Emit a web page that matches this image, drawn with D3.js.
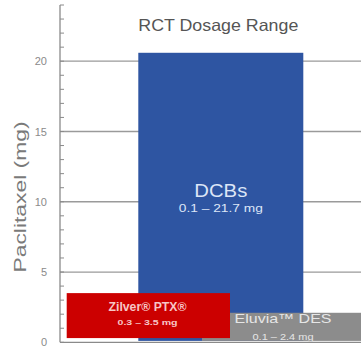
<!DOCTYPE html>
<html><head><meta charset="utf-8">
<script src="https://cdn.jsdelivr.net/npm/d3@7"></script>
<style>html,body{margin:0;padding:0;background:#fff;}svg{display:block;font-family:"Liberation Sans",Arial,sans-serif;}</style>
</head><body>
<svg id="c" width="361" height="349"></svg>
<script>
const categories = ["DCBs", "Zilver® PTX®", "Eluvia™ DES"];
const lowValues = [0.1, 0.3, 0.1];
const highValues = [20.6, 3.5, 2.1];
const rangeLabels = ["0.1 – 21.7 mg", "0.3 – 3.5 mg", "0.1 – 2.4 mg"];
const majorTicks = [0, 5, 10, 15, 20];
const minorTicks = d3.range(0, 25, 1);
const title = "RCT Dosage Range";
const yTitle = "Paclitaxel (mg)";

// layout (pixels)
const xSpans = [[138.3, 303.3], [66.7, 230], [202, 362]];
const fills = ["#2E55A2", "#CC0000", "#8C8C8C"];
const nameColors = ["#DCE6F7", "#F7C6C6", "#E6E6E6"];
const drawOrder = [0, 2, 1];
const nameStyle = [
  {size: 19, len: 53, dy: 0}, {size: 12.5, len: 78, dy: 0}, {size: 13, len: 97, dy: 0}
];
const subStyle = [
  {size: 10, len: 84}, {size: 8, len: 60}, {size: 8.5, len: 61}
];
const namePos = [[220.8, 196.5], [147.5, 311], [283, 323]];
const subPos = [[220.8, 211.7], [147.5, 325.3], [283, 339.5]];

const svg = d3.select("#c");
const y = d3.scaleLinear().domain([0, 24]).range([342.3, 5]);
const axisX = 60;

// gridlines
svg.append("g").selectAll("line").data(majorTicks.filter(d => d > 0)).join("line")
  .attr("x1", axisX).attr("x2", 361)
  .attr("y1", d => y(d)).attr("y2", d => y(d))
  .attr("stroke", "#9a9a9a").attr("stroke-width", 1.3);

// bars
const bars = svg.append("g");
drawOrder.forEach(i => {
  bars.append("rect")
    .attr("x", xSpans[i][0]).attr("width", xSpans[i][1] - xSpans[i][0])
    .attr("y", y(highValues[i])).attr("height", y(lowValues[i]) - y(highValues[i]))
    .attr("fill", fills[i]);
  bars.append("text")
    .attr("x", namePos[i][0]).attr("y", namePos[i][1])
    .attr("text-anchor", "middle")
    .attr("font-size", nameStyle[i].size)
    .attr("textLength", nameStyle[i].len).attr("lengthAdjust", "spacingAndGlyphs")
    .attr("fill", nameColors[i]).attr("font-weight", i === 1 ? "bold" : "normal")
    .text(categories[i]);
  bars.append("text")
    .attr("x", subPos[i][0]).attr("y", subPos[i][1])
    .attr("text-anchor", "middle")
    .attr("font-size", subStyle[i].size)
    .attr("textLength", subStyle[i].len).attr("lengthAdjust", "spacingAndGlyphs")
    .attr("fill", nameColors[i]).attr("font-weight", i === 1 ? "bold" : "normal")
    .text(rangeLabels[i]);
});

// axis
const axis = d3.axisLeft(y).tickValues(majorTicks).tickSize(0).tickPadding(13).tickFormat(d3.format("d"));
const ag = svg.append("g").attr("transform", `translate(${axisX},0)`).call(axis);
ag.select(".domain").remove();
ag.selectAll("text").attr("font-size", 11).attr("fill", "#8a8a8a").attr("font-family", "Liberation Sans, Arial, sans-serif");
svg.append("line").attr("x1", axisX).attr("x2", axisX).attr("y1", y(24)).attr("y2", y(0))
  .attr("stroke", "#8a8a8a").attr("stroke-width", 1.3);
svg.append("line").attr("x1", axisX).attr("x2", 361).attr("y1", y(0)).attr("y2", y(0))
  .attr("stroke", "#8a8a8a").attr("stroke-width", 1.3);
svg.append("g").selectAll("line").data(minorTicks).join("line")
  .attr("x1", axisX).attr("x2", axisX + 4)
  .attr("y1", d => y(d)).attr("y2", d => y(d))
  .attr("stroke", "#8a8a8a").attr("stroke-width", 1);

// titles
svg.append("text").attr("x", 218.3).attr("y", 30.7).attr("text-anchor", "middle")
  .attr("font-size", 16.5).attr("fill", "#555").attr("textLength", 160).attr("lengthAdjust", "spacingAndGlyphs")
  .text(title);
svg.append("text").attr("transform", "translate(25.5,197) rotate(-90)")
  .attr("text-anchor", "middle").attr("font-size", 16).attr("fill", "#7a7a7a")
  .attr("textLength", 151).attr("lengthAdjust", "spacingAndGlyphs")
  .text(yTitle);
</script>
</body></html>
